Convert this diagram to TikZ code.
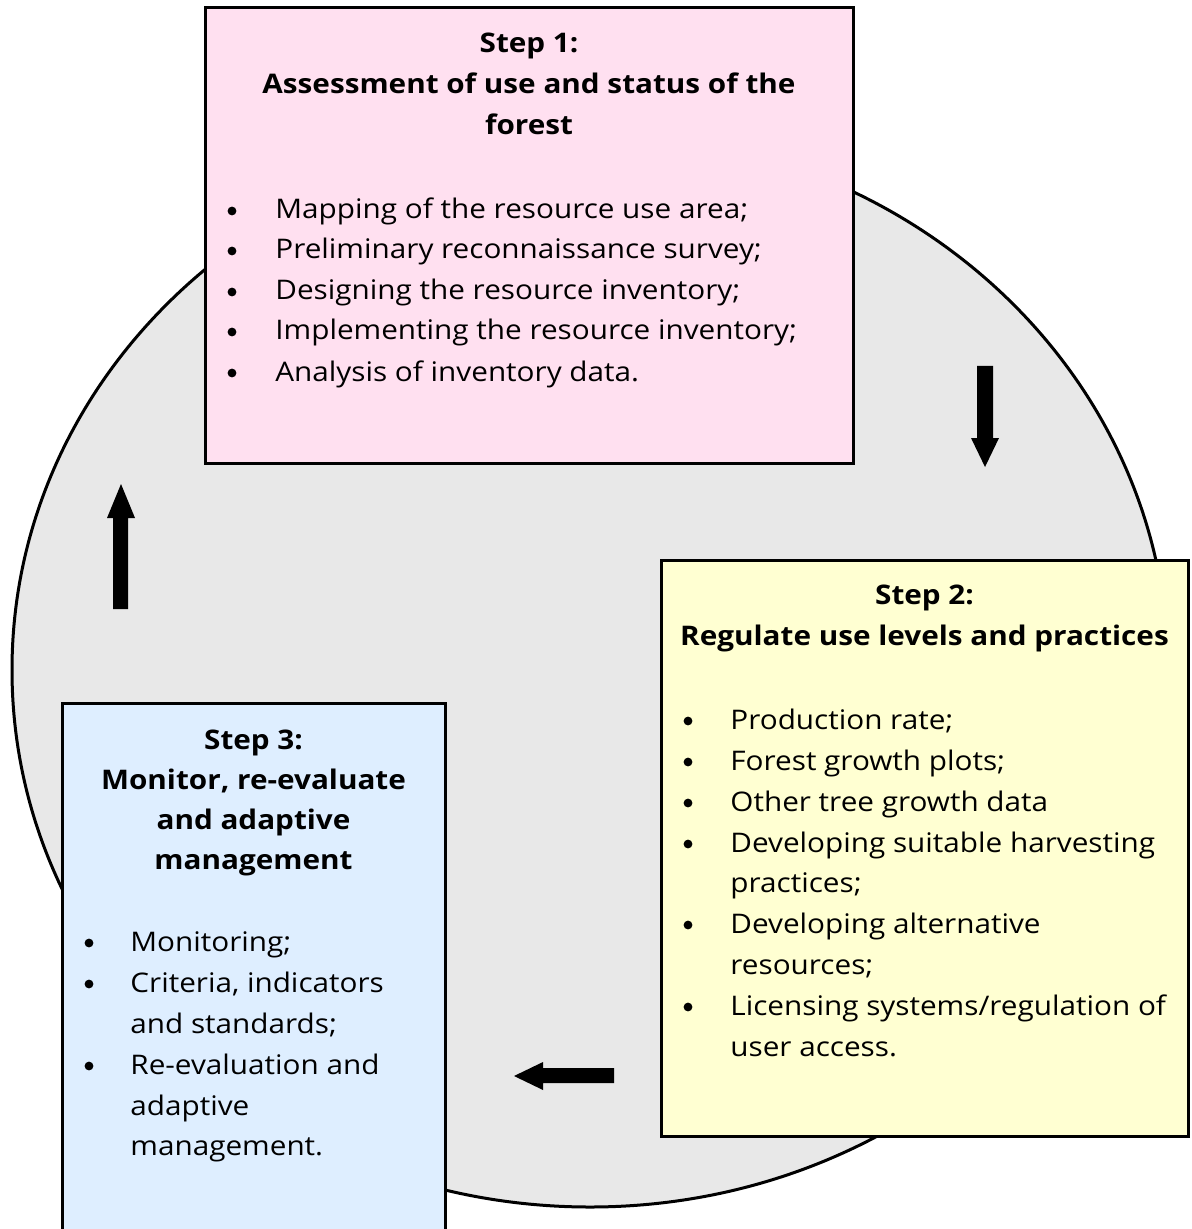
\documentclass[tikz,border=0pt]{standalone}
\usepackage{fontspec}
\setmainfont{Open Sans}[FakeStretch=1.1]
\begin{document}
\begin{tikzpicture}[x=0.5pt,y=-0.5pt,
  frame/.style={draw=black,line width=1.5pt},
  txt/.style={inner sep=0pt,anchor=base west,font=\fontsize{13.5pt}{16pt}\selectfont},
  head/.style={inner sep=0pt,anchor=base,font=\fontsize{13.5pt}{16pt}\selectfont\bfseries},
  bul/.style={circle,fill=black,inner sep=0pt,minimum size=4.4pt},
  blockarrow/.style={fill=black}]
\definecolor{ringgray}{RGB}{232,232,232}
\definecolor{pinkbox}{RGB}{255,224,240}
\definecolor{yellowbox}{RGB}{255,255,210}
\definecolor{bluebox}{RGB}{222,238,255}
\clip (0,0) rectangle (1191,1229);
% ring
\draw[frame,fill=ringgray] (590,670) ellipse [x radius=289pt, y radius=268.5pt];
% boxes
\draw[frame,fill=pinkbox] (205,8) rectangle (853,463);
\draw[frame,fill=yellowbox] (661,560) rectangle (1188,1136);
\draw[frame,fill=bluebox] (62,703) rectangle (445,1250);
% block arrows
\coordinate (dA) at (985,366);
\coordinate (uA) at (120.5,609);
\coordinate (lA) at (614,1075.5);
\fill[blockarrow] (dA) ++(-8,0) -- ++(16,0) -- ++(0,72) -- ++(6,0) -- (985,467) -- (971,438) -- (977,438) -- cycle;
\fill[blockarrow] (uA) ++(-7.5,0) -- ++(15,0) -- ++(0,-91) -- ++(7,0) -- (121,484) -- (107,518) -- (113,518) -- cycle;
\fill[blockarrow] (lA) ++(0,-7.5) -- ++(0,15) -- ++(-71,0) -- ++(0,7) -- (514,1076) -- (543,1062) -- (543,1068) -- cycle;
% Step 1
\node[head] (h1a) at (529,53) {Step 1:};
\node[head] (h1b) at (529,94) {Assessment of use and status of the};
\node[head] (h1c) at (529,135) {forest};
\foreach \yy/\tt [count=\i] in {219/Mapping of the resource use area;,259/Preliminary reconnaissance survey;,300/Designing the resource inventory;,340/Implementing the resource inventory;,381/Analysis of inventory data.}{
  \node[bul] (b1d\i) at (232,\yy-8) {};
  \node[txt] (b1t\i) at (275,\yy) {\tt};
}
% Step 2
\node[head] (h2a) at (924.5,604) {Step 2:};
\node[head] (h2b) at (924.5,645) {Regulate use levels and practices};
\foreach \yy in {729,770,811,852,933,1015}{
  \node[bul] (b2d\yy) at (688,\yy-8) {};
}
\node[txt] (b2t1) at (730,729) {Production rate;};
\node[txt] (b2t2) at (730,770) {Forest growth plots;};
\node[txt] (b2t3) at (730,811) {Other tree growth data};
\node[txt] (b2t4) at (730,852) {Developing suitable harvesting};
\node[txt] (b2t5) at (730,892) {practices;};
\node[txt] (b2t6) at (730,933) {Developing alternative};
\node[txt] (b2t7) at (730,974) {resources;};
\node[txt] (b2t8) at (730,1015) {Licensing systems/regulation of};
\node[txt] (b2t9) at (730,1056) {user access.};
% Step 3
\node[head] (h3a) at (253.5,749) {Step 3:};
\node[head] (h3b) at (253.5,789) {Monitor, re-evaluate};
\node[head] (h3c) at (253.5,829) {and adaptive};
\node[head] (h3d) at (253.5,869) {management};
\foreach \yy in {951,992,1074}{
  \node[bul] (b3d\yy) at (89,\yy-8) {};
}
\node[txt] (b3t1) at (130,951) {Monitoring;};
\node[txt] (b3t2) at (130,992) {Criteria, indicators};
\node[txt] (b3t3) at (130,1033) {and standards;};
\node[txt] (b3t4) at (130,1074) {Re-evaluation and};
\node[txt] (b3t5) at (130,1115) {adaptive};
\node[txt] (b3t6) at (130,1155) {management.};
\end{tikzpicture}
\end{document}
